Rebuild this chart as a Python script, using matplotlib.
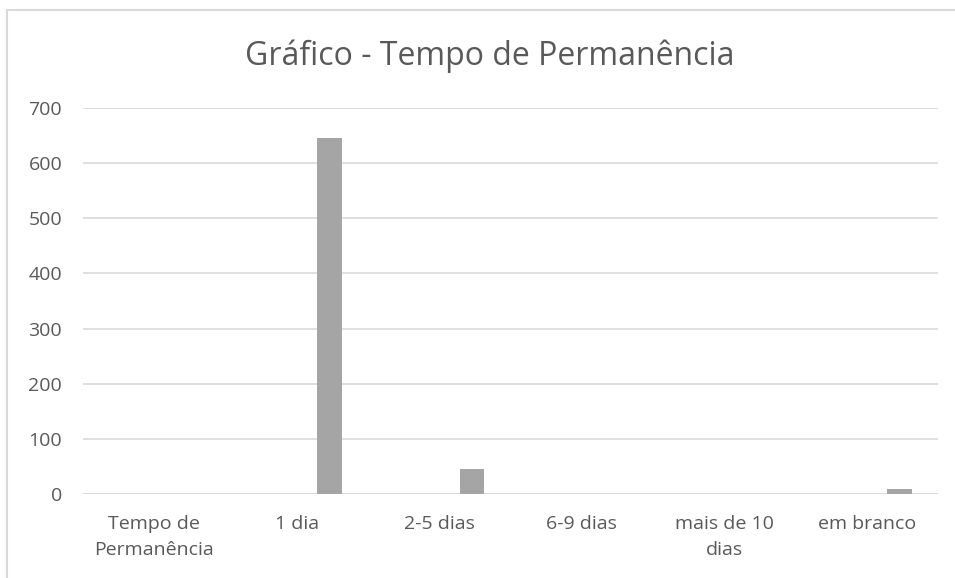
import matplotlib.pyplot as plt
import numpy as np
from matplotlib.lines import Line2D

categorias = ['Tempo de\nPermanência', '1 dia', '2-5 dias', '6-9 dias', 'mais de 10\ndias', 'em branco']
valores = [0, 645, 46, 0, 0, 9]
yticks = [0, 100, 200, 300, 400, 500, 600, 700]

plt.rcParams['font.family'] = ['Open Sans', 'DejaVu Sans']
txt = '#595959'
grid = '#d9d9d9'

fig = plt.figure(figsize=(9.55, 5.78), dpi=100)
ax = fig.add_axes([83 / 955, 1 - 494 / 578, 855 / 955, 386 / 578])

x = np.arange(len(categorias))
ax.bar(x + 0.23, valores, width=0.175, color='#a5a5a5', zorder=3)

ax.set_xlim(-0.5, len(categorias) - 0.5)
ax.set_ylim(0, 700)
ax.set_yticks(yticks)
ax.set_xticks(x)
ax.set_xticklabels(categorias, linespacing=1.6)
ax.yaxis.grid(True, color=grid, linewidth=1.2, zorder=0)
ax.tick_params(axis='both', length=0, labelsize=14, labelcolor=txt)
ax.tick_params(axis='y', pad=15)
ax.tick_params(axis='x', pad=15)
for s in ax.spines.values():
    s.set_visible(False)
ax.axhline(0, color=grid, linewidth=1.2, zorder=2)

fig.text(490 / 955, 1 - 56 / 578, 'Gráfico - Tempo de Permanência', ha='center', va='center',
         fontsize=23, color=txt)

# moldura do gráfico
fig.add_artist(Line2D([7 / 955, 7 / 955], [0, 1 - 10 / 578], color=grid, linewidth=1.5))
fig.add_artist(Line2D([7 / 955, 1], [1 - 10 / 578, 1 - 10 / 578], color=grid, linewidth=1.5))

fig.savefig('out.png', dpi=100)
